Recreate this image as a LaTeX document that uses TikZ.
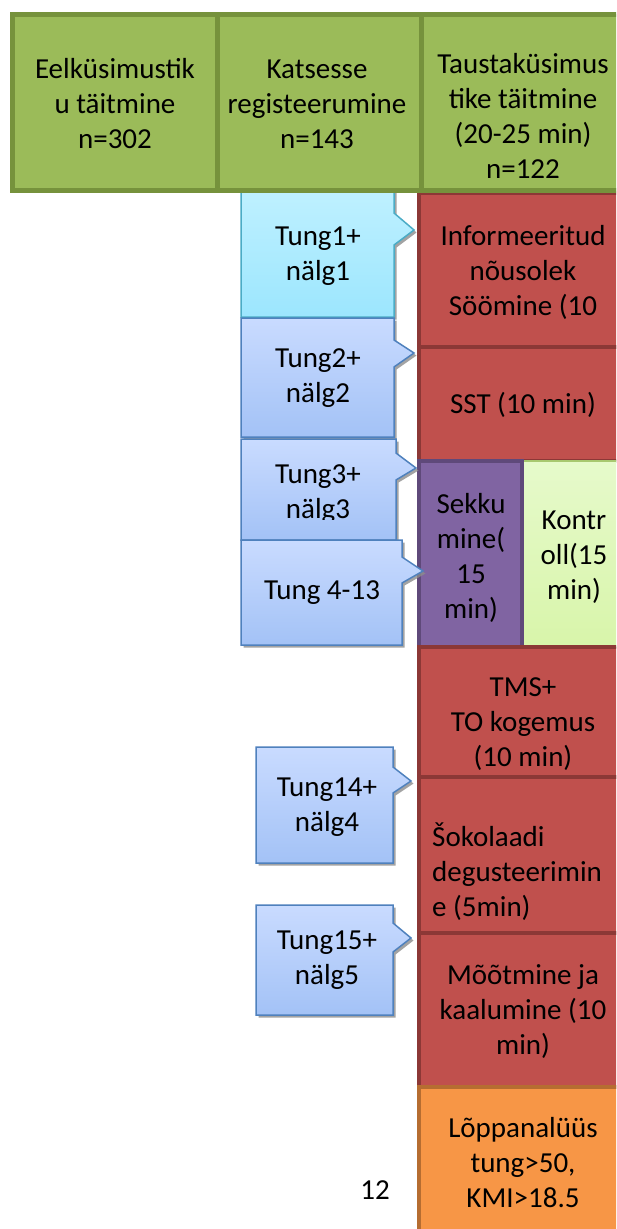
\documentclass[tikz,border=0pt]{standalone}
\usepackage{fontspec}
\setmainfont{Carlito}
\usetikzlibrary{shadows}
\definecolor{grfill}{HTML}{9BBB59}
\definecolor{grline}{HTML}{76923C}
\definecolor{rdfill}{HTML}{C0504D}
\definecolor{rdline}{HTML}{8C3836}
\definecolor{pufill}{HTML}{8064A2}
\definecolor{puline}{HTML}{5F497A}
\definecolor{lgtop}{HTML}{E6FACB}
\definecolor{lgbot}{HTML}{D8F5AA}
\definecolor{lgline}{HTML}{A8C870}
\definecolor{orfill}{HTML}{F79646}
\definecolor{orline}{HTML}{B66D31}
\definecolor{cytop}{HTML}{C0F1FF}
\definecolor{cybot}{HTML}{9CE6FE}
\definecolor{cyline}{HTML}{4BACC6}
\definecolor{bltop}{HTML}{C9DBFF}
\definecolor{blbot}{HTML}{A3C2F6}
\definecolor{blline}{HTML}{4F81BD}
\begin{document}
\begin{tikzpicture}[x=1pt,y=-1pt,
  txt/.style={font=\fontsize{29}{35}\selectfont, align=center, inner sep=0pt},
  cellbox/.style={anchor=north west, inner sep=0pt, outer sep=0pt},
  grnbox/.style={cellbox, draw=grline, fill=grfill, line width=5pt},
  redbox/.style={cellbox, draw=rdline, fill=rdfill, line width=4pt},
  purbox/.style={cellbox, draw=puline, fill=pufill, line width=4pt},
  lgbox/.style={cellbox, draw=lgline, top color=lgtop, bottom color=lgbot, line width=1.5pt},
  orbox/.style={cellbox, draw=orline, fill=orfill, line width=4pt},
  shad/.style={drop shadow={shadow xshift=2.5pt, shadow yshift=-2.5pt, fill=black!45, opacity=0.8}},
  cyancall/.style={shad, draw=cyline, top color=cytop, bottom color=cybot, line width=1.5pt},
  bluecall/.style={shad, draw=blline, top color=bltop, bottom color=blbot, line width=1.5pt}
]
\useasboundingbox (0,0) rectangle (616,1229);
\fill[white] (0,0) rectangle (616,1229);
\clip (0,0) rectangle (616,1229);

% right column
\node[redbox, minimum width=211pt, minimum height=154pt] (r1) at (419,193) {};
\node[redbox, minimum width=211pt, minimum height=114pt] (r2) at (419,347) {};
\node[lgbox, minimum width=108pt, minimum height=186pt] (k) at (522,461) {};
\node[purbox, minimum width=103pt, minimum height=186pt] (p) at (419,461) {};
\node[redbox, minimum width=211pt, minimum height=130pt] (r3) at (419,647) {};
\node[redbox, minimum width=211pt, minimum height=156pt] (r4) at (419,777) {};
\node[redbox, minimum width=211pt, minimum height=154pt] (r5) at (419,933) {};
\node[orbox, minimum width=211pt, minimum height=160pt] (o) at (419,1087) {};

\node[txt] (tr1) at (523,272) {Informeeritud\\nõusolek\\Söömine (10};
\node[txt] (tr2) at (523,405) {SST (10 min)};
\node[txt] (tp) at (471,558) {Sekku\\mine(\\15\\min)};
\node[txt] (tk) at (574,557) {Kontr\\oll(15\\min)};
\node[txt] (tr3) at (523,724) {TMS+\\TO kogemus\\(10 min)};
\node[txt, align=left, anchor=west] (tr4) at (432,872) {Šokolaadi\\degusteerimin\\e (5min)};
\node[txt] (tr5) at (523,1012) {Mõõtmine ja\\kaalumine (10\\min)};
\node[txt] (to) at (523,1163) {Lõppanalüüs\\tung>50,\\KMI>18.5};

% callouts
\path[cyancall] (241,185) -- (394,185) -- (394,213) -- (414,230) -- (394,245) -- (394,317) -- (241,317) -- cycle;
\node[txt] (tc1) at (318,256) {Tung1+\\nälg1};
\path[bluecall] (241,318) -- (394,318) -- (394,340) -- (414,353) -- (394,367) -- (394,437) -- (241,437) -- cycle;
\node[txt] (tc2) at (318,378) {Tung2+\\nälg2};
\path[bluecall] (241,439) -- (396,439) -- (396,453) -- (416,468) -- (396,480) -- (396,540) -- (241,540) -- cycle;
\begin{scope}
\clip (241,440) rectangle (396,519);
\node[txt] (tc3) at (318,494) {Tung3+\\nälg3};
\end{scope}
\path[bluecall] (241,540) -- (402,540) -- (402,557) -- (423,571) -- (402,583) -- (402,645) -- (241,645) -- cycle;
\node[txt] (tc4) at (322,593) {Tung 4-13};
\path[bluecall] (256,747) -- (393,747) -- (393,767) -- (411,781) -- (393,793) -- (393,863) -- (256,863) -- cycle;
\node[txt] (tc5) at (327,807) {Tung14+\\nälg4};
\path[bluecall] (256,905) -- (393,905) -- (393,923) -- (411,938) -- (393,952) -- (393,1015) -- (256,1015) -- cycle;
\node[txt] (tc6) at (327,960) {Tung15+\\nälg5};

% top row
\node[grnbox, minimum width=204.5pt, minimum height=176.5pt] (g1) at (12.5,14) {};
\node[grnbox, minimum width=204pt, minimum height=176.5pt] (g2) at (217,14) {};
\node[grnbox, minimum width=220pt, minimum height=176.5pt] (g3) at (421,14) {};
\node[txt] (t1) at (115,104) {Eelküsimustik\\u täitmine\\n=302};
\node[txt] (t2) at (317,104) {Katsesse\\registeerumine\\n=143};
\node[txt] (t3) at (523,116) {Taustaküsimus\\tike täitmine\\(20-25 min)\\n=122};

\node[txt] (n12) at (375,1190) {12};
\end{tikzpicture}
\end{document}
